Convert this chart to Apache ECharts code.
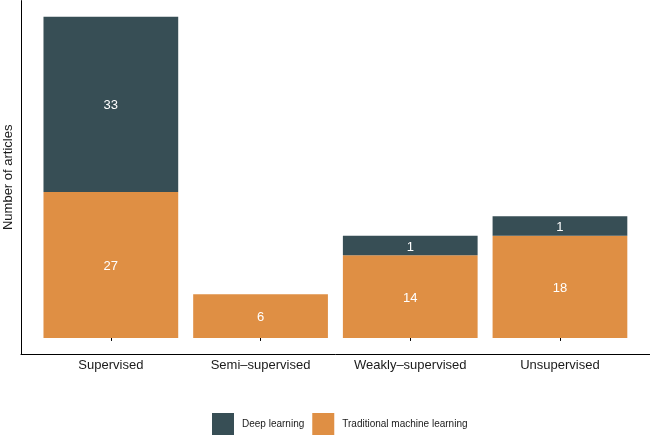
<!DOCTYPE html>
<html>
<head>
<meta charset="utf-8">
<script src="https://cdn.jsdelivr.net/npm/echarts@6/dist/echarts.min.js"></script>
<style>
  html, body { margin: 0; padding: 0; background: #ffffff; }
  #chart { width: 650px; height: 437px; }
</style>
</head>
<body>
<div id="chart"></div>
<script>
// ---- data ----
const categories = ['Supervised', 'Semi\u2013supervised', 'Weakly\u2013supervised', 'Unsupervised'];
const traditionalML = [27, 6, 14, 18];
const deepLearning = [33, 0, 1, 1];
const seriesNames = ['Deep learning', 'Traditional machine learning'];
const yAxisTitle = 'Number of articles';
// the reference draws every non-empty segment 3 units taller than its count
const SEGMENT_PAD = 3;

const FONT = '"Liberation Sans", Arial, Helvetica, sans-serif';
const COL_DEEP = '#374E55';
const COL_TRAD = '#DF8F44';

function segs(arr) {
  return arr.map(v => (v > 0 ? { value: v + SEGMENT_PAD, raw: v } : null));
}

const chart = echarts.init(document.getElementById('chart'), null, { renderer: 'canvas' });

const labelStyle = {
  show: true,
  position: 'inside',
  offset: [0, 1.5],
  color: '#ffffff',
  fontSize: 13,
  fontFamily: FONT,
  formatter: p => String(p.data.raw)
};

chart.setOption({
  animation: false,
  backgroundColor: '#ffffff',
  textStyle: { fontFamily: FONT },
  grid: [
    { left: 36, width: 598.8, top: 0.6, bottom: 83, containLabel: false, outerBoundsMode: 'none' },
    { left: 21, width: 628.6, top: 0.6, bottom: 83, containLabel: false, outerBoundsMode: 'none' }
  ],
  legend: {
    data: seriesNames,
    left: 212,
    top: 413,
    padding: 0,
    icon: 'rect',
    itemWidth: 22,
    itemHeight: 22,
    itemGap: 8,
    textStyle: { fontSize: 10, color: '#1a1a1a', fontFamily: FONT, padding: [0, 0, 0, 3] }
  },
  xAxis: [
    {
      gridIndex: 0,
      type: 'category',
      data: categories,
      boundaryGap: true,
      axisLine: { show: false },
      axisTick: { show: true, alignWithLabel: true, length: 3, lineStyle: { color: '#000', width: 1 } },
      axisLabel: { color: '#1a1a1a', fontSize: 13, fontFamily: FONT, margin: 5 },
      splitLine: { show: false }
    },
    {
      gridIndex: 1,
      type: 'value',
      min: 0,
      max: 1,
      axisLine: { show: true, onZero: false, lineStyle: { color: '#000', width: 1 } },
      axisTick: { show: false },
      axisLabel: { show: false },
      splitLine: { show: false }
    }
  ],
  yAxis: [
    {
      gridIndex: 0,
      type: 'value',
      min: -3.3,
      max: 69.3,
      show: false,
      splitLine: { show: false }
    },
    {
      gridIndex: 1,
      type: 'value',
      min: 0,
      max: 1,
      name: yAxisTitle,
      nameLocation: 'middle',
      nameRotate: 90,
      nameGap: 6,
      nameTextStyle: { color: '#1a1a1a', fontSize: 13, fontFamily: FONT },
      axisLine: { show: true, onZero: false, lineStyle: { color: '#000', width: 1 } },
      axisTick: { show: false },
      axisLabel: { show: false },
      splitLine: { show: false }
    }
  ],
  series: [
    {
      name: seriesNames[1],
      type: 'bar',
      xAxisIndex: 0,
      yAxisIndex: 0,
      stack: 'total',
      barWidth: '90%',
      itemStyle: { color: COL_TRAD },
      label: labelStyle,
      data: segs(traditionalML)
    },
    {
      name: seriesNames[0],
      type: 'bar',
      xAxisIndex: 0,
      yAxisIndex: 0,
      stack: 'total',
      barWidth: '90%',
      itemStyle: { color: COL_DEEP },
      label: labelStyle,
      data: segs(deepLearning)
    }
  ]
});
</script>
</body>
</html>
